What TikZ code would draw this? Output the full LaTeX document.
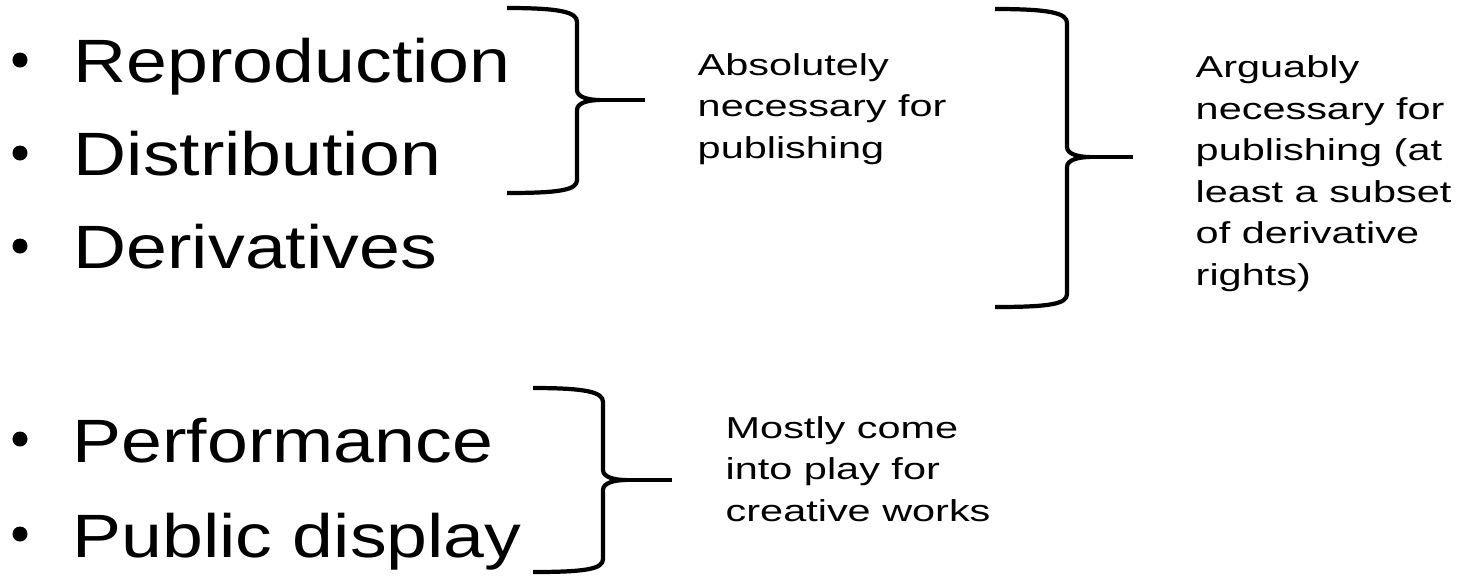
\documentclass[tikz,border=0pt]{standalone}
\usepackage{fontspec}
\setmainfont{Liberation Sans}
\newfontfamily\bigfont[FakeStretch=1.2]{Liberation Sans}
\newfontfamily\smallfont[FakeStretch=1.37]{Liberation Sans}
\usetikzlibrary{positioning}

\begin{document}
\begin{tikzpicture}
                [x=0.01cm, y=-0.01cm,
                 item/.style={anchor=base west, inner sep=0pt, font=\bigfont\fontsize{17.4}{26}\selectfont},
                 dot/.style={circle, fill, inner sep=0pt, minimum size=0.15cm},
                 note/.style={anchor=base west, inner sep=0pt, align=left, font=\smallfont\fontsize{8.6}{11.8}\selectfont},
                 brace/.style={line width=1.2pt}]
                \useasboundingbox (0,0) rectangle (1464,575);
                \node (rep) [item] at (73,82) {Reproduction};
                \node (dist) [item] at (73,175) {Distribution};
                \node (deriv) [item] at (73,268) {Derivatives};
                \node (perf) [item] at (72,462) {Performance};
                \node (disp) [item] at (72,557) {Public display};
                \node (repdot) [dot] at (20,60) { };
                \node (distdot) [dot] at (20,153) { };
                \node (derivdot) [dot] at (20,246) { };
                \node (perfdot) [dot] at (20,439) { };
                \node (dispdot) [dot] at (20,534) { };
                % braces
                \coordinate (pub) at (645,100);
                \coordinate (arg) at (1133,157);
                \coordinate (play) at (672,480);
                \draw[brace] (507,8) .. controls (560,8) and (577,12) .. (577,22) -- (577,90)
                    .. controls (577,97) and (588,100) .. (600,100)
                    .. controls (588,100) and (577,103) .. (577,110) -- (577,180)
                    .. controls (577,190) and (560,193) .. (507,193);
                \draw[brace] (600,100) -- (pub);
                \draw[brace] (995,9) .. controls (1050,9) and (1067,13) .. (1067,23) -- (1067,147)
                    .. controls (1067,154) and (1078,157) .. (1090,157)
                    .. controls (1078,157) and (1067,160) .. (1067,167) -- (1067,294)
                    .. controls (1067,304) and (1050,307) .. (995,307);
                \draw[brace] (1090,157) -- (arg);
                \draw[brace] (533,388) .. controls (586,388) and (603,392) .. (603,402) -- (603,470)
                    .. controls (603,477) and (614,480) .. (626,480)
                    .. controls (614,480) and (603,483) .. (603,490) -- (603,559)
                    .. controls (603,569) and (586,572) .. (533,572);
                \draw[brace] (626,480) -- (play);
                % notes (anchored at the last line)
                \node (absn) [note] at (697,158) {Absolutely\\necessary for\\publishing};
                \node (argn) [note] at (1195,285) {Arguably\\necessary for\\publishing (at\\least a subset\\of derivative\\rights)};
                \node (playn) [note] at (725,521) {Mostly come\\into play for\\creative works};
            \end{tikzpicture}
\end{document}
